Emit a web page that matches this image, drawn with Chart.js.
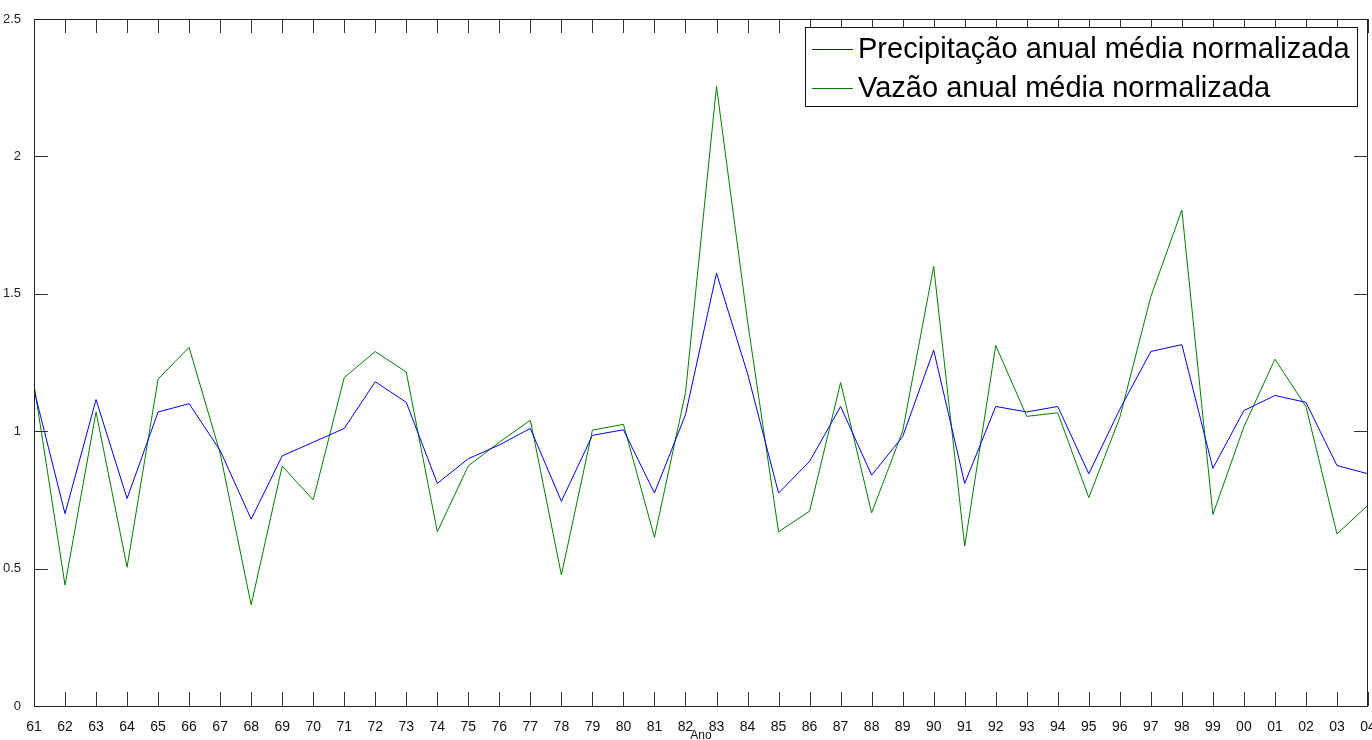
<!DOCTYPE html>
<html>
<head>
<meta charset="utf-8">
<title>Precipitação e vazão anual média normalizada</title>
<script src="https://cdn.jsdelivr.net/npm/chart.js@4/dist/chart.umd.min.js"></script>
<style>
  html, body { margin: 0; padding: 0; background: #fff; }
  #grafico { display: block; }
</style>
</head>
<body>
<canvas id="grafico" width="1372" height="740"></canvas>
<script>
var anos = ['61','62','63','64','65','66','67','68','69','70','71','72','73','74','75',
            '76','77','78','79','80','81','82','83','84','85','86','87','88','89','90',
            '91','92','93','94','95','96','97','98','99','00','01','02','03','04'];

var precipitacao = [1.15, 0.70, 1.115, 0.755, 1.07, 1.10, 0.93, 0.68, 0.91, 0.96,
                    1.01, 1.18, 1.105, 0.81, 0.90, 0.95, 1.01, 0.745, 0.985, 1.005,
                    0.775, 1.06, 1.575, 1.21, 0.775, 0.89, 1.09, 0.84, 0.98, 1.295,
                    0.81, 1.09, 1.07, 1.09, 0.845, 1.08, 1.29, 1.315, 0.865, 1.075,
                    1.13, 1.105, 0.875, 0.845];

var vazao = [1.17, 0.44, 1.07, 0.505, 1.19, 1.305, 0.92, 0.368, 0.873, 0.75,
             1.195, 1.29, 1.215, 0.634, 0.874, 0.96, 1.04, 0.477, 1.004, 1.025,
             0.614, 1.14, 2.255, 1.40, 0.634, 0.709, 1.177, 0.703, 1.00, 1.60,
             0.582, 1.312, 1.054, 1.067, 0.758, 1.05, 1.49, 1.805, 0.697, 1.016,
             1.262, 1.09, 0.626, 0.731];

var yTicks = [0, 0.5, 1, 1.5, 2, 2.5];
var yTickLabels = ['0', '0.5', '1', '1.5', '2', '2.5'];

// moldura com marcas para dentro nos quatro lados
var moldura = {
  id: 'moldura',
  afterDatasetsDraw: function(chart) {
    var ctx = chart.ctx, a = chart.chartArea;
    var x = chart.scales.x, y = chart.scales.y;
    var tam = 14;
    ctx.save();
    ctx.strokeStyle = '#333';
    ctx.lineWidth = 1;
    ctx.beginPath();
    for (var i = 0; i < anos.length; i++) {
      var px = Math.round(x.getPixelForTick(i)) + 0.5;
      ctx.moveTo(px, a.bottom); ctx.lineTo(px, a.bottom - tam);
      ctx.moveTo(px, a.top); ctx.lineTo(px, a.top + tam);
    }
    for (var j = 0; j < yTicks.length; j++) {
      var py = Math.round(y.getPixelForValue(yTicks[j])) + 0.5;
      ctx.moveTo(a.left, py); ctx.lineTo(a.left + tam, py);
      ctx.moveTo(a.right, py); ctx.lineTo(a.right - tam, py);
    }
    ctx.stroke();
    ctx.strokeStyle = '#222';
    ctx.strokeRect(Math.round(a.left) + 0.5, Math.round(a.top) + 0.5,
                   Math.round(a.right - a.left) - 1, Math.round(a.bottom - a.top));
    ctx.restore();
  }
};

// legenda desenhada dentro da área do gráfico, canto superior direito
var legendaInterna = {
  id: 'legendaInterna',
  afterDraw: function(chart) {
    var ctx = chart.ctx;
    var caixa = { x: 805.5, y: 27.5, w: 552, h: 79 };
    ctx.save();
    ctx.fillStyle = '#fff';
    ctx.fillRect(caixa.x, caixa.y, caixa.w, caixa.h);
    ctx.strokeStyle = '#111';
    ctx.lineWidth = 1;
    ctx.strokeRect(caixa.x, caixa.y, caixa.w, caixa.h);
    ctx.font = '29px "Liberation Sans", Arial, sans-serif';
    ctx.textBaseline = 'middle';
    ctx.fillStyle = '#000';
    chart.data.datasets.forEach(function(ds, k) {
      var ly = caixa.y + 21 + k * 39;
      ctx.strokeStyle = ds.borderColor;
      ctx.beginPath();
      ctx.moveTo(812, Math.round(ly) + 0.5);
      ctx.lineTo(853, Math.round(ly) + 0.5);
      ctx.stroke();
      ctx.fillText(ds.label, 858, ly + 1);
    });
    ctx.restore();
  }
};

new Chart(document.getElementById('grafico'), {
  type: 'line',
  data: {
    labels: anos,
    datasets: [
      {
        label: 'Precipitação anual média normalizada',
        data: precipitacao,
        borderColor: '#0000ff',
        borderWidth: 1,
        pointRadius: 0,
        tension: 0,
        fill: false
      },
      {
        label: 'Vazão anual média normalizada',
        data: vazao,
        borderColor: '#008000',
        borderWidth: 1,
        pointRadius: 0,
        tension: 0,
        fill: false
      }
    ]
  },
  options: {
    responsive: false,
    animation: false,
    layout: { padding: { top: 19, right: 4, left: 0, bottom: 0 } },
    plugins: {
      legend: { display: false },
      tooltip: { enabled: false },
      title: { display: false }
    },
    scales: {
      x: {
        type: 'category',
        offset: false,
        grid: { display: false },
        border: { display: false },
        ticks: {
          autoSkip: false,
          maxRotation: 0,
          padding: 5,
          color: '#111',
          font: { family: '"Liberation Sans Narrow", "Arial Narrow", "Liberation Sans", sans-serif', size: 14 }
        },
        title: {
          display: true,
          text: 'Ano',
          color: '#111',
          padding: { top: 0, bottom: 0 },
          font: { family: '"Liberation Sans", Arial, sans-serif', size: 12, lineHeight: 0.75 }
        },
        afterFit: function(s) {
          s.height = 34;
          s.paddingLeft = 0;
          s.paddingRight = 0;
        }
      },
      y: {
        min: 0,
        max: 2.5,
        grid: { display: false },
        border: { display: false },
        afterBuildTicks: function(s) {
          s.ticks = yTicks.map(function(v) { return { value: v }; });
        },
        ticks: {
          padding: 5,
          color: '#222',
          font: { family: '"Liberation Sans", Arial, sans-serif', size: 13 },
          callback: function(v, i) { return yTickLabels[i]; }
        },
        afterFit: function(s) { s.width = 34; }
      }
    }
  },
  plugins: [moldura, legendaInterna]
});
</script>
</body>
</html>
